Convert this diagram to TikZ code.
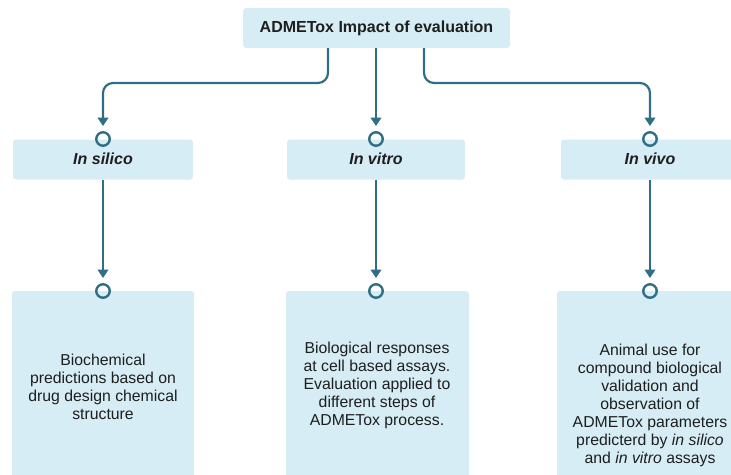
\documentclass[tikz,border=0pt]{standalone}
\usepackage{fontspec}
\setmainfont{Liberation Sans}
\usetikzlibrary{arrows.meta}
\definecolor{boxblue}{HTML}{D6EDF5}
\definecolor{linecol}{HTML}{2F6F86}
\definecolor{txt}{HTML}{1E1E1E}
\begin{document}
\begin{tikzpicture}[x=1pt,y=-1pt,
  box/.style={fill=boxblue, draw=none, rounded corners=3pt, inner sep=0pt},
  title/.style={font=\fontsize{16}{19}\selectfont\bfseries, text=txt},
  head/.style={font=\fontsize{16}{19}\selectfont\bfseries\itshape, text=txt},
  body/.style={font=\fontsize{15.8}{18}\selectfont, text=txt, align=center},
  ring/.style={circle, draw=linecol, line width=2.4pt, minimum size=13.5pt, inner sep=0pt},
  conn/.style={draw=linecol, line width=2.2pt, -{Triangle[width=10.5pt,length=8.5pt]}, shorten >=5pt},
  ]
\useasboundingbox (0,0) rectangle (731,474);
% top
\node[box, minimum width=267pt, minimum height=40pt] (top) at (376.5,28) {};
\node[title] (toptext) at (376.5,28) {ADMETox Impact of evaluation};
% middle boxes
\node[box, minimum width=180pt, minimum height=40pt] (silico) at (103,159.5) {};
\node[box, minimum width=178pt, minimum height=40pt] (vitro) at (376,159.5) {};
\node[box, minimum width=182pt, minimum height=40pt] (vivo) at (652,159.5) {};
\node[head] (silicotext) at (103,159) {In silico};
\node[head] (vitrotext) at (376,159) {In vitro};
\node[head] (vivotext) at (650,159) {In vivo};
% bottom boxes
\node[box, minimum width=182pt, minimum height=200pt] (b1) at (103,391) {};
\node[box, minimum width=183pt, minimum height=200pt] (b2) at (377.5,391) {};
\node[box, minimum width=184pt, minimum height=200pt] (b3) at (649,391) {};
\node[body] (t1) at (103,386.5) {Biochemical\\predictions based on\\drug design chemical\\structure};
\node[body] (t2) at (377,385) {Biological responses\\at cell based assays.\\Evaluation applied to\\different steps of\\ADMETox process.};
\node[body] (t3) at (650,405) {Animal use for\\compound biological\\validation and\\observation of\\ADMETox parameters\\predicterd by \textit{in silico}\\and \textit{in vitro} assays};
% rings
\node[ring] (r1) at (103,139) {};
\node[ring] (r2) at (376,139) {};
\node[ring] (r3) at (650,139) {};
\node[ring] (r4) at (103,291) {};
\node[ring] (r5) at (376,291) {};
\node[ring] (r6) at (650,291) {};
% connectors
\coordinate (s1) at (328,48);
\coordinate (s2) at (376,48);
\coordinate (s3) at (424,48);
\coordinate (k1) at (103,83);
\coordinate (k3) at (650,83);
\draw[conn, rounded corners=10pt] (s1) |- (k1) -- (r1.north);
\draw[conn] (s2) -- (r2.north);
\draw[conn, rounded corners=10pt] (s3) |- (k3) -- (r3.north);
\draw[conn] (silico.south) -- (r4.north);
\draw[conn] (vitro.south -| r5) -- (r5.north);
\draw[conn] (vivo.south -| r6) -- (r6.north);
\end{tikzpicture}
\end{document}
